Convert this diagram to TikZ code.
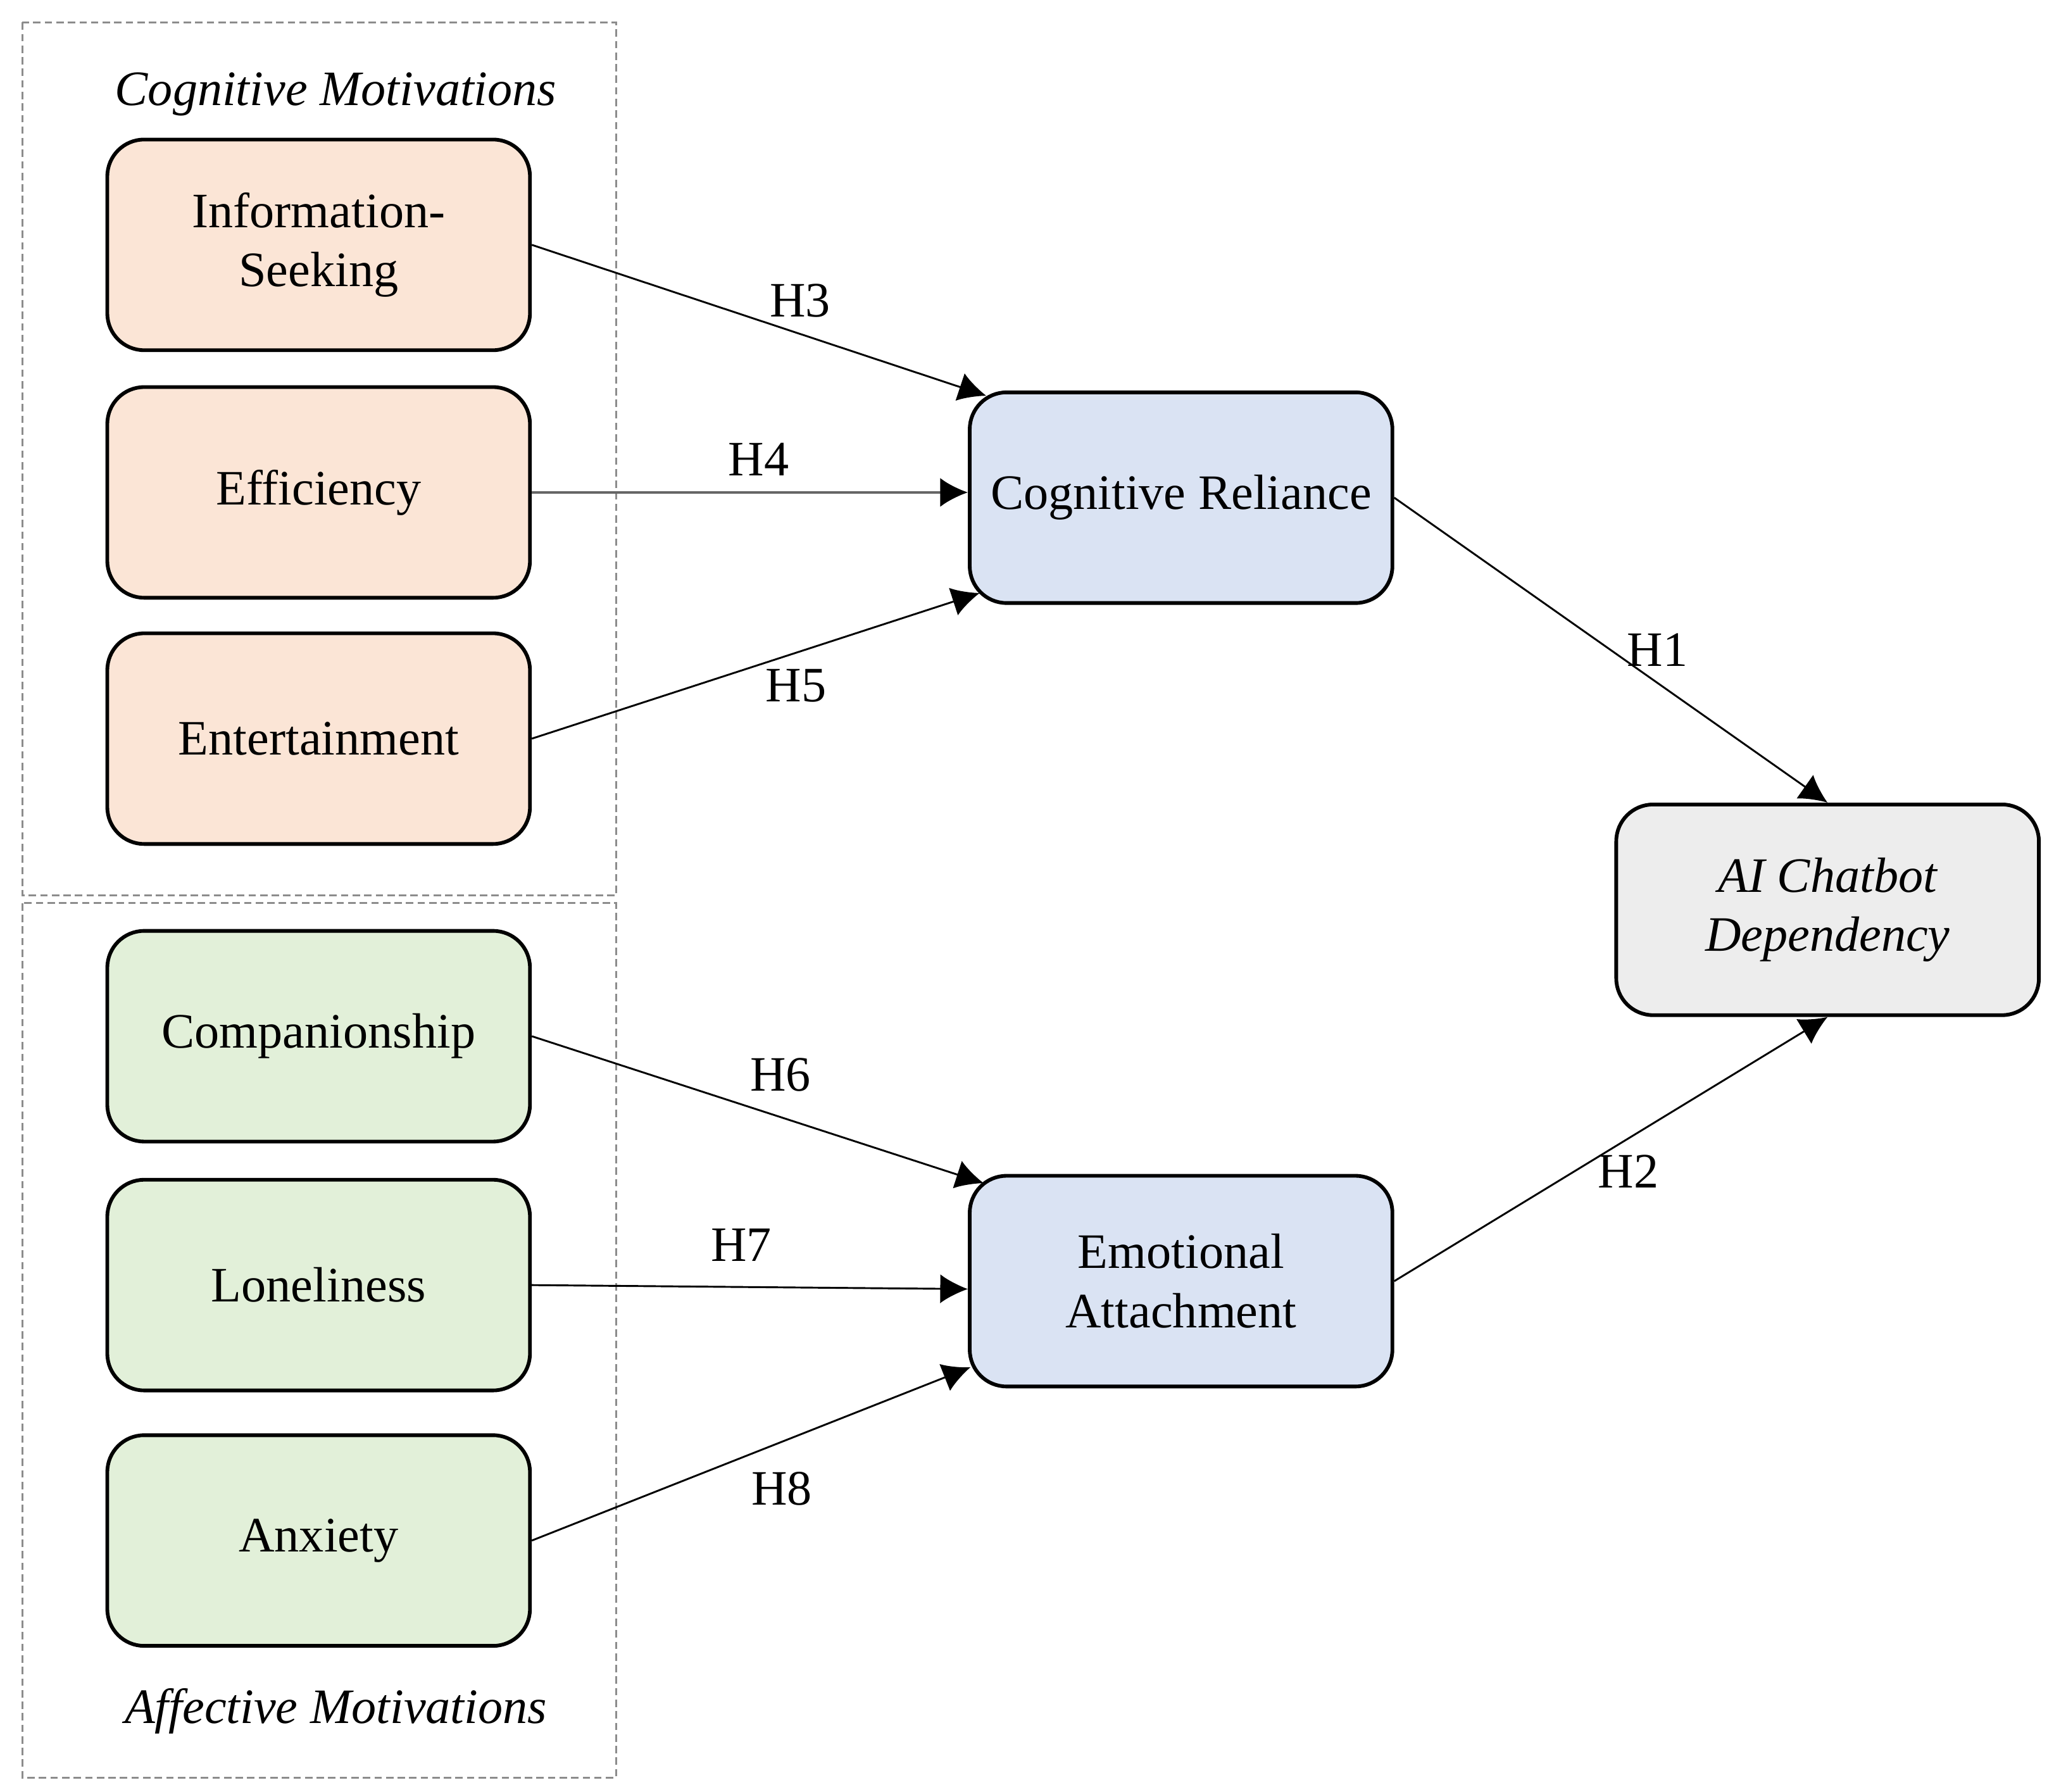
\documentclass[tikz,border=0pt]{standalone}
\usepackage{fontspec}
\setmainfont{Liberation Serif}
\usetikzlibrary{calc,arrows.meta}
\definecolor{cogfill}{HTML}{FBE5D6}
\definecolor{afffill}{HTML}{E2F0D9}
\definecolor{medfill}{HTML}{DAE3F3}
\definecolor{outfill}{HTML}{EDEDED}
\def\figfont{\fontsize{10.7}{12.8}\selectfont}
\tikzset{
	factor/.style={draw, line width=0.8pt, rounded corners=0.28cm, minimum width=3.21cm, minimum height=1.6cm, align=center, font=\figfont},
	group/.style={draw=black!45, dash pattern=on 1.6pt off 0.9pt, line width=0.4pt},
	hyp/.style={-{Latex[length=2.1mm,width=2.2mm,color=black]}, line width=0.4pt},
	hlbl/.style={font=\figfont}
}

\begin{document}
\begin{tikzpicture}
			%%%%% START %%%%%
			\useasboundingbox (0, 0) rectangle (15.6, 13.605);
			
			\draw[group] (0.17, 13.435) rectangle (4.68, 6.805);
			\draw[group] (0.17, 6.745) rectangle (4.68, 0.105);
			\node[font=\figfont\itshape] (cogmot) at (2.55, 12.89) {Cognitive Motivations};
			\node[font=\figfont\itshape] (affmot) at (2.55, 0.61) {Affective Motivations};
			
			\node[factor, fill=cogfill] (info) at (2.42, 11.745) {Information-\\Seeking};
			\node[factor, fill=cogfill] (effic) at (2.42, 9.865) {Efficiency};
			\node[factor, fill=cogfill] (enter) at (2.42, 7.995) {Entertainment};
			
			\node[factor, fill=afffill] (compan) at (2.42, 5.735) {Companionship};
			\node[factor, fill=afffill] (lonely) at (2.42, 3.845) {Loneliness};
			\node[factor, fill=afffill] (anxiety) at (2.42, 1.905) {Anxiety};
			
			\node[factor, fill=medfill] (reliance) at (8.97, 9.825) {Cognitive Reliance};
			\node[factor, fill=medfill] (attach) at (8.97, 3.875) {Emotional\\Attachment};
			\node[factor, fill=outfill, font=\figfont\itshape] (depend) at (13.88, 6.695) {AI Chatbot\\Dependency};
			
			\draw[hyp] (info.east) -- node[hlbl, pos=0.59, above] {H3} ($(reliance.north west)+(0.14, -0.04)$);
			\draw[hyp, draw=black!60, line width=0.6pt] (effic.east) -- node[hlbl, pos=0.52, above] {H4} (effic.east -| reliance.west);
			\draw[hyp] (enter.east) -- node[hlbl, pos=0.59, below] {H5} ($(reliance.south west)+(0.09, 0.09)$);
			
			\draw[hyp] (compan.east) -- node[hlbl, pos=0.55, above=2pt] {H6} ($(attach.north west)+(0.12, -0.07)$);
			\draw[hyp] (lonely.east) -- node[hlbl, pos=0.48, above=2pt] {H7} ($(attach.west)+(0, -0.06)$);
			\draw[hyp] (anxiety.east) -- node[hlbl, pos=0.57, below=3pt] {H8} ($(attach.south west)+(0.02, 0.16)$);
			
			\draw[hyp] (reliance.east) -- node[hlbl, pos=0.5, right] {H1} (depend.north);
			\draw[hyp] (attach.east) -- node[hlbl, pos=0.54, below] {H2} (depend.south);
			%%%%% END %%%%%
\end{tikzpicture}
\end{document}
